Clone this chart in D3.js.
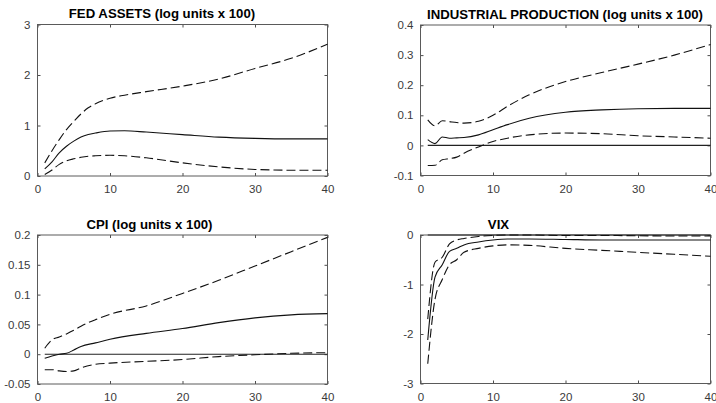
<!DOCTYPE html>
<html>
<head>
<meta charset="utf-8">
<script src="https://cdn.jsdelivr.net/npm/d3@7"></script>
<style>
  html, body { margin: 0; padding: 0; background: #fff; }
  svg { display: block; font-family: "Liberation Sans", Arial, sans-serif; }
</style>
</head>
<body>
<svg id="chart" width="716" height="403"></svg>
<script>
// Impulse responses: median (solid) and confidence bands (dashed), by horizon.
const fedHorizons = [1, 2, 3, 4, 5, 6, 7, 8, 10, 12, 15, 20, 25, 30, 35, 40];
const fedMedian   = [0.14, 0.28, 0.46, 0.59, 0.69, 0.77, 0.82, 0.85, 0.89, 0.895, 0.87, 0.82, 0.77, 0.745, 0.735, 0.735];
const fedUpper    = [0.26, 0.50, 0.72, 0.92, 1.08, 1.23, 1.35, 1.43, 1.54, 1.60, 1.67, 1.78, 1.92, 2.13, 2.33, 2.61];
const fedLower    = [0.03, 0.12, 0.23, 0.30, 0.34, 0.37, 0.39, 0.40, 0.41, 0.40, 0.36, 0.26, 0.18, 0.13, 0.115, 0.115];
const fedTicks    = [0, 1, 2, 3];

const ipHorizons = [1, 2, 3, 4, 5, 6, 8, 10, 12, 15, 20, 25, 30, 35, 40];
const ipMedian   = [0.019, 0.006, 0.028, 0.024, 0.025, 0.026, 0.035, 0.052, 0.069, 0.090, 0.110, 0.118, 0.122, 0.123, 0.123];
const ipUpper    = [0.085, 0.065, 0.082, 0.079, 0.076, 0.074, 0.080, 0.100, 0.130, 0.168, 0.212, 0.242, 0.270, 0.300, 0.335];
const ipLower    = [-0.067, -0.066, -0.048, -0.044, -0.039, -0.026, -0.005, 0.013, 0.024, 0.035, 0.041, 0.039, 0.032, 0.028, 0.024];
const ipTicks    = [-0.1, 0, 0.1, 0.2, 0.3, 0.4];

const cpiHorizons = [1, 2, 3, 4, 5, 6, 8, 10, 15, 20, 25, 30, 35, 40];
const cpiMedian   = [-0.007, -0.003, 0, 0.0015, 0.007, 0.013, 0.019, 0.025, 0.035, 0.043, 0.053, 0.061, 0.066, 0.068];
const cpiUpper    = [0.010, 0.024, 0.029, 0.034, 0.040, 0.047, 0.058, 0.067, 0.081, 0.102, 0.124, 0.148, 0.172, 0.196];
const cpiLower    = [-0.026, -0.026, -0.028, -0.029, -0.028, -0.023, -0.017, -0.015, -0.012, -0.009, -0.004, -0.001, 0.0015, 0.0026];
const cpiTicks    = [-0.05, 0, 0.05, 0.1, 0.15, 0.2];

const vixHorizons = [1, 2, 3, 4, 5, 6, 8, 10, 12, 15, 20, 25, 30, 35, 40];
const vixMedian   = [-2.12, -0.85, -0.60, -0.33, -0.27, -0.20, -0.14, -0.10, -0.08, -0.08, -0.09, -0.10, -0.10, -0.10, -0.10];
const vixUpper    = [-1.70, -0.55, -0.45, -0.18, -0.10, -0.07, -0.03, -0.01, 0, 0, -0.01, -0.01, -0.015, -0.02, -0.02];
const vixLower    = [-2.60, -1.30, -0.90, -0.60, -0.50, -0.35, -0.27, -0.22, -0.20, -0.21, -0.27, -0.31, -0.35, -0.39, -0.43];
const vixTicks    = [-3, -2, -1, 0];

const xTicks = [0, 10, 20, 30, 40];

const panels = [
  { title: "FED ASSETS (log units x 100)", titleX: 162, box: [37.5, 24.5, 327.5, 176],
    yDomain: [0, 3], yTicks: fedTicks, h: fedHorizons, med: fedMedian, up: fedUpper, lo: fedLower, zero: false },
  { title: "INDUSTRIAL PRODUCTION (log units x 100)", titleX: 565, box: [420.5, 25, 710.5, 175.5],
    yDomain: [-0.1, 0.4], yTicks: ipTicks, h: ipHorizons, med: ipMedian, up: ipUpper, lo: ipLower, zero: true },
  { title: "CPI (log units x 100)", titleX: 149.5, box: [37.5, 235, 327.5, 384],
    yDomain: [-0.05, 0.2], yTicks: cpiTicks, h: cpiHorizons, med: cpiMedian, up: cpiUpper, lo: cpiLower, zero: true },
  { title: "VIX", titleX: 498.5, box: [420.5, 235, 710.5, 383.5],
    yDomain: [-3, 0], yTicks: vixTicks, h: vixHorizons, med: vixMedian, up: vixUpper, lo: vixLower, zero: true }
];

const svg = d3.select("#chart");
svg.append("rect").attr("width", 716).attr("height", 403).attr("fill", "#fff");

const fmt = v => (v === 0 ? "0" : String(+v.toFixed(2)));

panels.forEach(p => {
  const [x0, y0, x1, y1] = p.box;
  const x = d3.scaleLinear().domain([0, 40]).range([x0, x1]);
  const y = d3.scaleLinear().domain(p.yDomain).range([y1, y0]);
  const g = svg.append("g");

  // axes: ticks point inward, mirrored on top/right (boxed axes)
  const axisColor = "#4d4d4d";
  const styleAxis = sel => {
    sel.select(".domain").remove();
    sel.selectAll(".tick line").attr("stroke", axisColor).attr("stroke-width", 1);
    sel.selectAll(".tick text").attr("fill", "#3a3a3a").attr("font-size", 11.5);
  };

  g.append("g").attr("transform", `translate(0,${y1})`)
    .call(d3.axisBottom(x).tickValues(xTicks).tickSizeInner(-3).tickSizeOuter(0).tickPadding(9).tickFormat(d3.format("d")))
    .call(styleAxis);
  g.append("g").attr("transform", `translate(0,${y0})`)
    .call(d3.axisTop(x).tickValues(xTicks).tickSizeInner(-3).tickSizeOuter(0).tickFormat(""))
    .call(styleAxis);
  g.append("g").attr("transform", `translate(${x0},0)`)
    .call(d3.axisLeft(y).tickValues(p.yTicks).tickSizeInner(-3).tickSizeOuter(0).tickPadding(7).tickFormat(fmt))
    .call(styleAxis);
  g.append("g").attr("transform", `translate(${x1},0)`)
    .call(d3.axisRight(y).tickValues(p.yTicks).tickSizeInner(-3).tickSizeOuter(0).tickFormat(""))
    .call(styleAxis);

  g.append("rect")
    .attr("x", x0).attr("y", y0).attr("width", x1 - x0).attr("height", y1 - y0)
    .attr("fill", "none").attr("stroke", "#5a5a5a").attr("stroke-width", 1);

  // zero reference line
  if (p.zero) {
    g.append("line")
      .attr("x1", x(1)).attr("x2", x1)
      .attr("y1", y(0)).attr("y2", y(0))
      .attr("stroke", "#222").attr("stroke-width", 1.1);
  }

  const line = d3.line()
    .x((d, i) => x(p.h[i]))
    .y(d => y(d))
    .curve(d3.curveMonotoneX);

  [[p.up, true], [p.lo, true], [p.med, false]].forEach(([vals, dashed]) => {
    g.append("path")
      .attr("d", line(vals))
      .attr("fill", "none")
      .attr("stroke", "#111")
      .attr("stroke-width", 1.1)
      .attr("stroke-dasharray", dashed ? "9,4" : null);
  });

  g.append("text")
    .attr("x", p.titleX).attr("y", y0 - 6.5)
    .attr("text-anchor", "middle")
    .attr("font-size", 13.2).attr("font-weight", "bold").attr("fill", "#000")
    .text(p.title);
});
</script>
</body>
</html>
